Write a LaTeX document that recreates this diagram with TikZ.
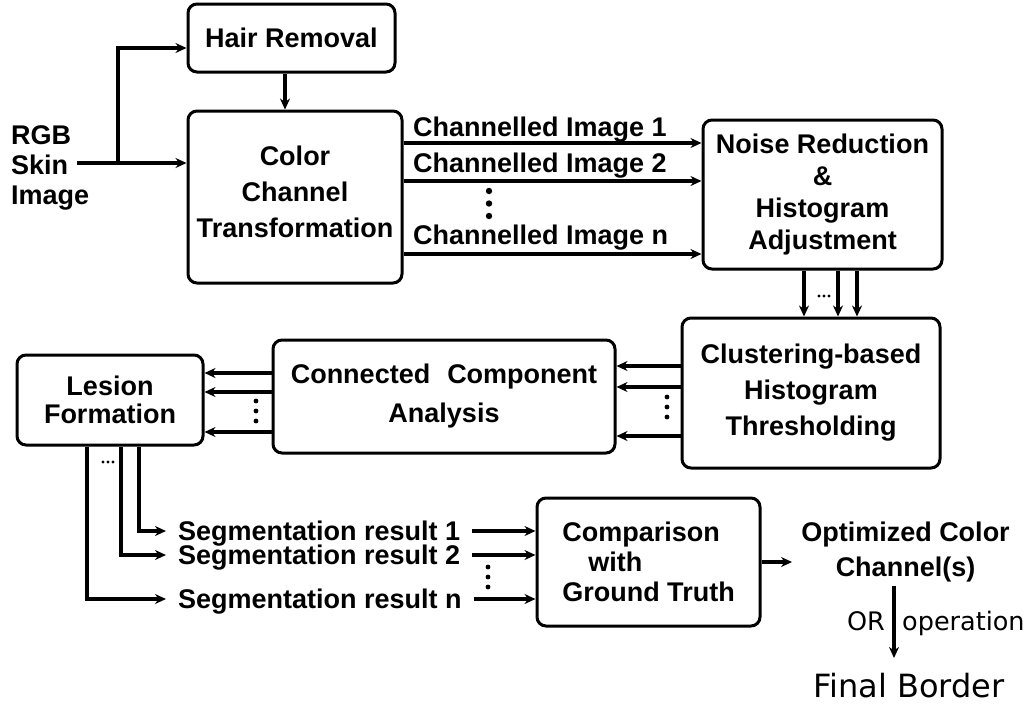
\documentclass[tikz,border=0pt]{standalone}
\usepackage{fontspec}
\setmainfont{Liberation Sans}
\newfontfamily\plainfont{DejaVu Sans}
\usetikzlibrary{arrows.meta}

\tikzset{
  block/.style={draw, line width=3pt, rounded corners=9pt, align=center, inner sep=0pt},
  flow/.style={line width=3.2pt, -{Stealth[length=11pt,width=10pt]}},
  fs/.style={font=\bfseries\fontsize{27}{#1}\selectfont},
  capmid/.style={inner sep=0pt, text height=19.4pt, text depth=0pt},
  thin text/.style={font=\plainfont\fontsize{#1}{#1}\selectfont, inner sep=0pt}
}

\begin{document}
\begin{tikzpicture}[x=1pt,y=-1pt]
\useasboundingbox (0,0) rectangle (1034,705);

% Processing blocks
\node[block, fs=33, minimum width=207pt, minimum height=68pt] (hair) at (291.5,38) {Hair Removal};
\node[block, fs=36, minimum width=214pt, minimum height=172pt] (color) at (295,197) {Color\\Channel\\Transformation\\[-26pt]};
\node[block, fs=32, minimum width=239pt, minimum height=149pt] (noise) at (822.5,194.5) {Noise Reduction\\\&\\Histogram\\Adjustment};
\node[block, fs=36, minimum width=258pt, minimum height=150pt] (cluster) at (811,393) {Clustering-based\\Histogram\\Thresholding};
\node[block, fs=39, minimum width=342pt, minimum height=113pt] (cc) at (444,396.5) {Connected\hspace{17pt}Component\\Analysis};
\node[block, fs=28, minimum width=186pt, minimum height=90pt] (lesion) at (110,400) {Lesion\\Formation};
\node[block, fs=30, align=left, minimum width=223pt, minimum height=128pt] (comp) at (648.5,562) {Comparison\\\hspace{26pt}with\\Ground Truth};

% Input image
\node[fs=30, align=left, inner sep=0pt, anchor=west] (rgb) at (11,168) {RGB\\Skin\\Image};
\coordinate (skin) at (77,163);
\coordinate (split) at (118,163);
\draw[flow] (skin) -- (skin -| color.west);
\draw[flow] (split) |- (hair.west |- 0,48);
\draw[flow] (hair.south -| 285,0) -- (color.north -| 285,0);

% Channelled images
\node[fs=30, capmid, anchor=west] (ch1) at (413,127) {Channelled Image 1};
\node[fs=30, capmid, anchor=west] (ch2) at (413,163) {Channelled Image 2};
\node[fs=30, capmid, anchor=west] (chn) at (413,235) {Channelled Image n};
\foreach \y in {143,181,254}
  \draw[flow] (color.east |- 0,\y) -- (noise.west |- 0,\y);
\foreach \y in {191,203.5,216} \fill (489,\y) circle (3.2pt);

% Noise reduction to thresholding
\foreach \x in {804,838,857}
  \draw[flow] (noise.south -| \x,0) -- (cluster.north -| \x,0);
\foreach \x in {819,824,829} \fill (\x,296) circle (1.7pt);

% Thresholding to connected components to lesion
\foreach \y in {366,387,436}
  \draw[flow] (cluster.west |- 0,\y) -- (cc.east |- 0,\y);
\foreach \y in {397,407,417} \fill (667,\y) circle (2.4pt);
\foreach \y in {373,392,432}
  \draw[flow] (cc.west |- 0,\y) -- (lesion.east |- 0,\y);
\foreach \y in {401,411,421} \fill (256,\y) circle (2.4pt);

% Segmentation results
\node[fs=30, capmid, inner xsep=12pt, anchor=west] (seg1) at (166,531) {Segmentation result 1};
\node[fs=30, capmid, inner xsep=12pt, anchor=west] (seg2) at (166,555) {Segmentation result 2};
\node[fs=30, capmid, inner xsep=12pt, anchor=west] (segn) at (166,599) {Segmentation result n};
\draw[flow] (lesion.south -| 139,0) |- (seg1.west);
\draw[flow] (lesion.south -| 121,0) |- (seg2.west);
\draw[flow] (lesion.south -| 87,0) |- (segn.west);
\foreach \x in {103,108,113} \fill (\x,462) circle (1.7pt);
\foreach \s in {seg1,seg2,segn}
  \draw[flow] (\s.east) -- (\s.east -| comp.west);
\foreach \y in {567,577,587} \fill (488,\y) circle (2.4pt);

% Output
\node[fs=35, align=center, inner xsep=9pt] (opt) at (905.5,552) {Optimized Color\\Channel(s)};
\draw[flow] (comp.east) -- (comp.east -| opt.west);
\node[thin text=32, inner ysep=14.5pt, anchor=base] (final) at (909,697) {Final Border};
\draw[flow] (opt.south -| 894,0) -- (final.north -| 894,0);
\node[thin text=25.5, anchor=base east] (orlbl) at (885,630) {OR};
\node[thin text=25.5, anchor=base west] (oplbl) at (902,630) {operation};
\end{tikzpicture}
\end{document}
